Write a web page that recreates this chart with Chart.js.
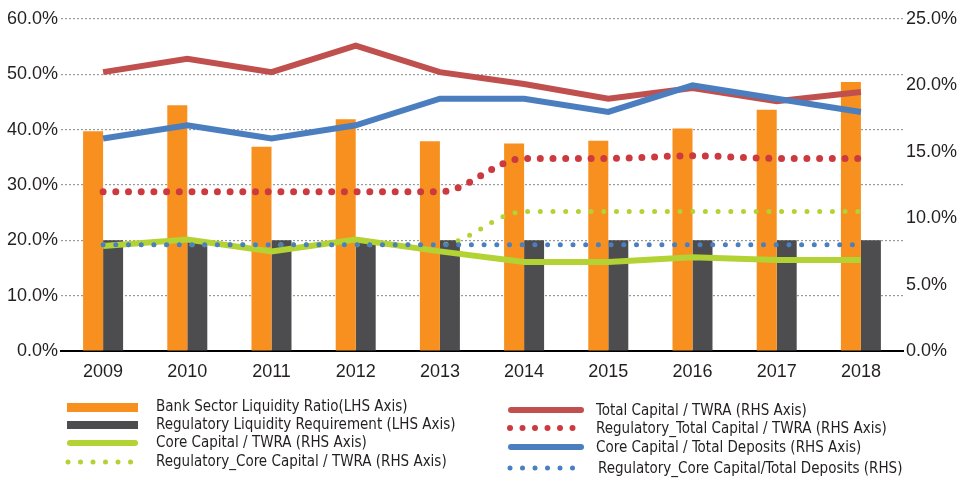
<!DOCTYPE html>
<html>
<head>
<meta charset="utf-8">
<script src="https://cdn.jsdelivr.net/npm/chart.js@4/dist/chart.umd.min.js"></script>
<style>
  html, body { margin: 0; padding: 0; background: #fff; }
  #wrap { width: 968px; height: 479px; position: relative; }
</style>
</head>
<body>
<div id="wrap"><canvas id="myChart" width="968" height="479"></canvas></div>
<script>
// data
const years = ["2009", "2010", "2011", "2012", "2013", "2014", "2015", "2016", "2017", "2018"];

// left axis (LHS)
const liquidityRatio = [39.7, 44.4, 36.9, 41.9, 37.9, 37.5, 38.0, 40.2, 43.6, 48.6];
const liquidityReq   = [20, 20, 20, 20, 20, 20, 20, 20, 20, 20];

// right axis (RHS)
const totalCapTwra     = [21.0, 22.0, 21.0, 23.0, 21.0, 20.1, 19.0, 19.8, 18.8, 19.5];
const regTotalCapTwra  = [12.0, 12.0, 12.0, 12.0, 12.0, 14.5, 14.5, 14.7, 14.5, 14.5];
const coreCapDeposits  = [16.0, 17.0, 16.0, 17.0, 19.0, 19.0, 18.0, 20.0, 19.0, 18.0];
const regCoreDeposits  = [8.0, 8.0, 8.0, 8.0, 8.0, 8.0, 8.0, 8.0, 8.0, 8.0];
const coreCapTwra      = [7.9, 8.4, 7.5, 8.4, 7.5, 6.7, 6.7, 7.05, 6.85, 6.85];
const regCoreCapTwra   = [8.0, 8.0, 8.0, 8.0, 8.0, 10.5, 10.5, 10.5, 10.5, 10.5];

const leftTicks = [0, 10, 20, 30, 40, 50, 60];
const rightTicks = [0, 5, 10, 15, 20, 25];

const ORANGE = "#F7901E", GREY = "#4D4D4F", GREEN = "#B3D233";
const RED = "#C0504D", RED_DOT = "#CC3A40", BLUE = "#4A7EBF", BLUE_DOT = "#4A7FC1";

const tickFont = { family: "'Liberation Sans', Arial, sans-serif", size: 18 };
const legFont = "15px 'Liberation Sans Narrow', 'DejaVu Sans Condensed', sans-serif";

// legend drawn by hand, two columns like the original
const legendPlugin = {
    id: "twoColLegend",
    afterDraw(chart) {
        const c = chart.ctx;
        c.save();
        c.font = legFont;
        c.fillStyle = "#231F20";
        c.textBaseline = "middle";

        function rect(x1, x2, y1, y2, col) { c.fillStyle = col; c.fillRect(x1, y1, x2 - x1, y2 - y1); }
        function line(x1, x2, y, col) {
            c.strokeStyle = col; c.lineWidth = 6; c.lineCap = "round";
            c.beginPath(); c.moveTo(x1 + 3, y); c.lineTo(x2 - 3, y); c.stroke();
        }
        function dots(x1, y, col, r) {
            c.fillStyle = col;
            for (let i = 0; i < 6; i++) { c.beginPath(); c.arc(x1 + i * 12.5, y, r, 0, Math.PI * 2); c.fill(); }
        }
        function text(s, x, y) { c.fillStyle = "#231F20"; c.fillText(s, x, y); }

        rect(67, 138, 403, 412, ORANGE);
        text("Bank Sector Liquidity Ratio(LHS Axis)", 156, 407);
        rect(67, 138, 421, 429, GREY);
        text("Regulatory Liquidity Requirement (LHS Axis)", 156, 425);
        line(67, 138, 443, GREEN);
        text("Core Capital / TWRA (RHS Axis)", 156, 443);
        dots(68, 462, GREEN, 2.5);
        text("Regulatory_Core Capital / TWRA (RHS Axis)", 156, 462);

        line(508, 584, 410, RED);
        text("Total Capital / TWRA (RHS Axis)", 596, 411);
        dots(510, 428, RED_DOT, 3);
        text("Regulatory_Total Capital / TWRA (RHS Axis)", 596, 429);
        line(508, 584, 447, BLUE);
        text("Core Capital / Total Deposits (RHS Axis)", 596, 448);
        dots(510, 468, BLUE_DOT, 2.5);
        text("Regulatory_Core Capital/Total Deposits (RHS)", 598, 469);
        c.restore();
    }
};

const ctx = document.getElementById("myChart").getContext("2d");
const chart = new Chart(ctx, {
    type: "bar",
    data: {
        labels: years,
        datasets: [
            { type: "line", label: "Regulatory_Core Capital/Total Deposits (RHS)", data: regCoreDeposits, yAxisID: "yR",
              borderColor: BLUE_DOT, borderWidth: 5, borderDash: [0, 12.7], borderCapStyle: "round", pointRadius: 0, fill: false, order: 1 },
            { type: "line", label: "Core Capital / Total Deposits (RHS Axis)", data: coreCapDeposits, yAxisID: "yR",
              borderColor: BLUE, borderWidth: 6, pointRadius: 0, fill: false, tension: 0, order: 2 },
            { type: "line", label: "Total Capital / TWRA (RHS Axis)", data: totalCapTwra, yAxisID: "yR",
              borderColor: RED, borderWidth: 6, pointRadius: 0, fill: false, tension: 0, order: 3 },
            { type: "line", label: "Regulatory_Total Capital / TWRA (RHS Axis)", data: regTotalCapTwra, yAxisID: "yR",
              borderColor: RED_DOT, borderWidth: 7, borderDash: [0, 12.7], borderCapStyle: "round", pointRadius: 0, fill: false,
              cubicInterpolationMode: "monotone", order: 4 },
            { type: "line", label: "Regulatory_Core Capital / TWRA (RHS Axis)", data: regCoreCapTwra, yAxisID: "yR",
              borderColor: GREEN, borderWidth: 5, borderDash: [0, 12.7], borderCapStyle: "round", pointRadius: 0, fill: false,
              cubicInterpolationMode: "monotone", order: 5 },
            { type: "line", label: "Core Capital / TWRA (RHS Axis)", data: coreCapTwra, yAxisID: "yR",
              borderColor: GREEN, borderWidth: 6, pointRadius: 0, fill: false, tension: 0, order: 6 },
            { label: "Bank Sector Liquidity Ratio(LHS Axis)", data: liquidityRatio, yAxisID: "yL",
              backgroundColor: ORANGE, barPercentage: 1, categoryPercentage: 0.475, order: 7 },
            { label: "Regulatory Liquidity Requirement (LHS Axis)", data: liquidityReq, yAxisID: "yL",
              backgroundColor: GREY, barPercentage: 1, categoryPercentage: 0.475, order: 8 }
        ]
    },
    options: {
        responsive: false,
        animation: false,
        layout: { padding: { top: 19, bottom: 98, left: 0, right: 0 } },
        plugins: { legend: { display: false }, tooltip: { enabled: false } },
        scales: {
            x: {
                grid: { display: false },
                border: { display: true, color: "#000", width: 2 },
                ticks: { font: tickFont, color: "#231F20", padding: 2 },
                afterFit(s) { s.height = 30; }
            },
            yL: {
                position: "left",
                min: 0, max: 60,
                afterBuildTicks(s) { s.ticks = leftTicks.map(v => ({ value: v })); },
                ticks: { font: tickFont, color: "#231F20", padding: 3, callback: v => v.toFixed(1) + "%" },
                grid: { color: "#9a9a9a", lineWidth: 1.2, drawTicks: false },
                border: { display: false, dash: [2, 2] },
                afterFit(s) { s.width = 61; }
            },
            yR: {
                position: "right",
                min: 0, max: 25,
                afterBuildTicks(s) { s.ticks = rightTicks.map(v => ({ value: v })); },
                ticks: { font: tickFont, color: "#231F20", padding: 3, callback: v => v.toFixed(1) + "%" },
                grid: { display: false, drawTicks: false },
                border: { display: false },
                afterFit(s) { s.width = 65; }
            }
        }
    },
    plugins: [legendPlugin]
});
</script>
</body>
</html>
